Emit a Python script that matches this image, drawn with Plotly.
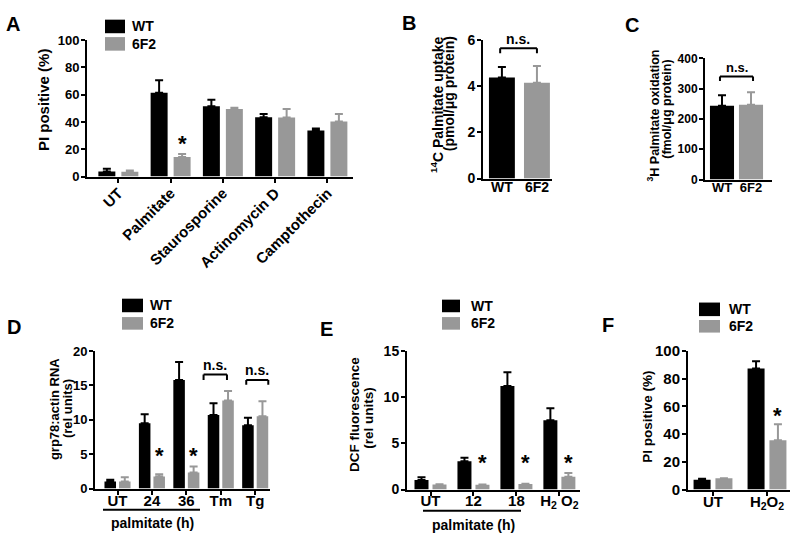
import plotly.graph_objects as go

W, H = 800, 545
FONT = "Liberation Sans, Arial, sans-serif"
BLACK = "#000000"
GRAY = "#989898"

# ---------------- data ----------------
# Panel A: PI positive (%)
a_cats = ["UT", "Palmitate", "Staurosporine", "Actinomycin D", "Camptothecin"]
a_wt = [3.8, 61.3, 51.5, 43.5, 33.8]
a_wt_sem = [1.9, 9.2, 4.8, 2.3, 1.4]
a_ko = [3.6, 14.3, 49.5, 43.3, 40.4]
a_ko_sem = [0.9, 2.3, 0.9, 6.1, 5.4]

# Panel B: 14C palmitate uptake
b_cats = ["WT", "6F2"]
b_vals = [4.38, 4.15]
b_sem = [0.45, 0.72]

# Panel C: 3H palmitate oxidation
c_cats = ["WT", "6F2"]
c_vals = [244, 247]
c_sem = [34, 41]

# Panel D: grp78:actin RNA
d_cats = ["UT", "24", "36", "Tm", "Tg"]
d_wt = [1.03, 9.5, 15.8, 10.7, 9.2]
d_wt_sem = [0.24, 1.3, 2.6, 1.7, 1.1]
d_ko = [1.03, 1.74, 2.35, 12.8, 10.5]
d_ko_sem = [0.6, 0.33, 0.85, 1.4, 2.2]

# Panel E: DCF fluorescence
e_cats = ["UT", "12", "18", "H2O2"]
e_ticks = ["UT", "12", "18", "H<sub>2</sub> O<sub>2</sub>"]
e_wt = [1.02, 3.05, 11.2, 7.5]
e_wt_sem = [0.32, 0.38, 1.5, 1.3]
e_ko = [0.55, 0.53, 0.6, 1.38]
e_ko_sem = [0.03, 0.02, 0.03, 0.4]

# Panel F: PI positive (%)
f_cats = ["UT", "H2O2"]
f_ticks = ["UT", "H<sub>2</sub>O<sub>2</sub>"]
f_wt = [7.0, 87.4]
f_wt_sem = [0.8, 5.2]
f_ko = [8.2, 35.6]
f_ko_sem = [0.0, 11.6]

# ---------------- helpers ----------------
def px(x):
    return x / W

def py(y):
    return 1 - y / H

fig = go.Figure()

def err(sem, color):
    return dict(type="data", symmetric=False, array=sem, arrayminus=[0] * len(sem),
                color=color, thickness=2, width=4)

def axis_style(n, xdom, ydom, xrange, yrange, dtick, tickfont_x=13, tickfont_y=12,
               tickangle=0, ticktext=None, cats=None, xstandoff=0, xticks="outside"):
    xs = "xaxis" if n == 1 else f"xaxis{n}"
    ys = "yaxis" if n == 1 else f"yaxis{n}"
    common = dict(showline=True, linecolor=BLACK, linewidth=2, ticks="outside",
                  ticklen=4, tickwidth=2, tickcolor=BLACK, showgrid=False,
                  zeroline=False, fixedrange=True)
    xa = dict(common, domain=[px(xdom[0]), px(xdom[1])], range=xrange, type="category",
              anchor=f"y{'' if n == 1 else n}", tickangle=tickangle,
              ticklabelstandoff=xstandoff, ticks=xticks,
              tickfont=dict(family=FONT, size=tickfont_x, color=BLACK, weight="bold"))
    if ticktext is not None:
        xa.update(tickmode="array", tickvals=cats, ticktext=ticktext)
    ya = dict(common, domain=[py(ydom[1]), py(ydom[0])], range=yrange, dtick=dtick,
              anchor=f"x{'' if n == 1 else n}", ticklabelstandoff=-1,
              tickfont=dict(family=FONT, size=tickfont_y, color=BLACK, weight="bold"))
    fig.update_layout(**{xs: xa, ys: ya})

def paired(n, cats, wt, wt_sem, ko, ko_sem, w, gap):
    xa = "x" if n == 1 else f"x{n}"
    ya = "y" if n == 1 else f"y{n}"
    fig.add_trace(go.Bar(x=cats, y=wt, xaxis=xa, yaxis=ya, width=w, offset=-w - gap / 2,
                         marker=dict(color=BLACK, line=dict(width=0)),
                         error_y=err(wt_sem, BLACK), showlegend=False, name="WT"))
    fig.add_trace(go.Bar(x=cats, y=ko, xaxis=xa, yaxis=ya, width=w, offset=gap / 2,
                         marker=dict(color=GRAY, line=dict(width=0)),
                         error_y=err(ko_sem, GRAY), showlegend=False, name="6F2"))
    return w / 2 + gap / 2  # center shift of each bar

def single(n, cats, vals, sem, w):
    xa = f"x{n}"
    ya = f"y{n}"
    for i, col in enumerate([BLACK, GRAY]):
        fig.add_trace(go.Bar(x=[cats[i]], y=[vals[i]], xaxis=xa, yaxis=ya, width=w,
                             marker=dict(color=col, line=dict(width=0)),
                             error_y=err([sem[i]], col), showlegend=False, name=cats[i]))

annotations = []
shapes = []

def text(x, y, s, size=13, xanchor="center", yanchor="middle", angle=0, xref="paper",
         yref="paper", yshift=0):
    annotations.append(dict(x=x, y=y, xref=xref, yref=yref, text=s, showarrow=False,
                            xanchor=xanchor, yanchor=yanchor, textangle=angle, yshift=yshift,
                            font=dict(family=FONT, size=size, color=BLACK, weight="bold")))

def ptext(x, y, s, size=13, **kw):
    text(px(x), py(y), s, size=size, **kw)

def star(xref, yref, x, y, size=22):
    # the asterisk glyph sits above the centre of its text box; shift it down
    text(x, y, "*", size=size, xref=xref, yref=yref, yshift=-5)

def legend(x0, x1, y0, y1, y2, y3, tx, size=14):
    shapes.append(dict(type="rect", xref="paper", yref="paper", x0=px(x0), x1=px(x1),
                       y0=py(y1), y1=py(y0), fillcolor=BLACK, line=dict(width=0)))
    shapes.append(dict(type="rect", xref="paper", yref="paper", x0=px(x0), x1=px(x1),
                       y0=py(y3), y1=py(y2), fillcolor=GRAY, line=dict(width=0)))
    ptext(tx, (y0 + y1) / 2, "WT", size=size, xanchor="left")
    ptext(tx, (y2 + y3) / 2, "6F2", size=size, xanchor="left")

def bracket(xref, yref, x0, x1, ytop, ybot):
    for (a, b, c, d) in [(x0, ytop, x1, ytop), (x0, ytop, x0, ybot), (x1, ytop, x1, ybot)]:
        shapes.append(dict(type="line", xref=xref, yref=yref, x0=a, y0=b, x1=c, y1=d,
                           line=dict(color=BLACK, width=2)))

def hline(x0, x1, y):
    shapes.append(dict(type="line", xref="paper", yref="paper", x0=px(x0), x1=px(x1),
                       y0=py(y), y1=py(y), line=dict(color=BLACK, width=2)))

# ---------------- Panel A ----------------
sA = paired(1, a_cats, a_wt, a_wt_sem, a_ko, a_ko_sem, 0.325, 0.115)
axis_style(1, (87, 353), (32, 173), [-0.60, 4.49], [0, 100], 20, tickfont_x=15,
           tickfont_y=13, tickangle=-45, xstandoff=-4)
star("x", "y", 1 + sA, 27.7)
legend(105, 125, 11, 25, 29, 43, 130)
ptext(43, 94, "PI positive (%)", size=15, angle=-90)
ptext(13, 15, "A", size=20)

# ---------------- Panel B ----------------
single(2, b_cats, b_vals, b_sem, 0.74)
axis_style(2, (483, 552), (32, 175), [-0.54, 1.43], [0, 6], 2, tickfont_x=14, tickfont_y=14,
           xstandoff=-5, xticks="")
bracket("x2", "y2", -0.05, 1.0, 5.64, 5.43)
ptext(518, 31, "n.s.", size=14)
ptext(437, 99, "<sup>14</sup>C Palmitate uptake", size=14, angle=-90)
ptext(449, 88, "(pmol/\u03bcg protein)", size=14, angle=-90)
ptext(409, 14, "B", size=20)

# ---------------- Panel C ----------------
single(3, c_cats, c_vals, c_sem, 0.83)
axis_style(3, (705, 772), (51, 176), [-0.586, 1.724], [0, 400], 100, tickfont_x=13,
           tickfont_y=12, xstandoff=-5, xticks="")
bracket("x3", "y3", -0.07, 1.07, 340, 325)
text(0.5, 370, "n.s.", size=13, xref="x3", yref="y3")
ptext(653, 110, "<sup>3</sup>H Palmitate oxidation", size=12.5, angle=-90)
ptext(667, 104, "(fmol/\u03bcg protein)", size=12.5, angle=-90)
ptext(632, 16, "C", size=20)

# ---------------- Panel D ----------------
sD = paired(4, d_cats, d_wt, d_wt_sem, d_ko, d_ko_sem, 0.335, 0.087)
axis_style(4, (95, 270), (353, 495), [-0.654, 4.43], [0, 20], 5, tickfont_x=15,
           tickfont_y=13, xstandoff=-7)
star("x4", "y4", 1 + sD, 5.5)
star("x4", "y4", 2 + sD, 5.5)
bracket("x4", "y4", 2.5, 3.18, 16.6, 15.8)
text(2.84, 18.0, "n.s.", size=14, xref="x4", yref="y4")
bracket("x4", "y4", 3.74, 4.38, 15.8, 15.1)
text(4.05, 17.2, "n.s.", size=14, xref="x4", yref="y4")
hline(103, 200, 517)
ptext(152, 531, "palmitate (h)", size=14)
legend(122, 143, 299, 313, 318, 331, 148)
ptext(54, 413, "grp78:actin RNA", size=13, angle=-90)
ptext(67, 413, "(rel units)", size=13, angle=-90)
ptext(14, 328, "D", size=20)

# ---------------- Panel E ----------------
sE = paired(5, e_cats, e_wt, e_wt_sem, e_ko, e_ko_sem, 0.326, 0.093)
axis_style(5, (407, 580), (353, 496), [-0.547, 3.48], [0, 15], 5, tickfont_x=15,
           tickfont_y=14, ticktext=e_ticks, cats=e_cats, xstandoff=-8)
for i in (1, 2, 3):
    star("x5", "y5", i + sE, 3.46)
hline(423, 521, 518)
ptext(473, 533, "palmitate (h)", size=14)
legend(442, 460, 300, 313, 318, 331, 469)
ptext(355, 419, "DCF fluorescence", size=13.5, angle=-90)
ptext(369, 422, "(rel units)", size=13.5, angle=-90)
ptext(326, 330, "E", size=20)

# ---------------- Panel F ----------------
sF = paired(6, f_cats, f_wt, f_wt_sem, f_ko, f_ko_sem, 0.315, 0.09)
axis_style(6, (688, 790), (353, 496), [-0.463, 1.426], [0, 100], 20, tickfont_x=15,
           tickfont_y=15, ticktext=f_ticks, cats=f_cats, xstandoff=-7)
star("x6", "y6", 1 + sF, 57)
legend(699, 720, 303, 317, 321, 334, 727)
ptext(648, 421, "PI positive (%)", size=13.5, angle=-90)
ptext(608, 326, "F", size=20)

fig.update_layout(width=W, height=H, margin=dict(l=0, r=0, t=0, b=0),
                  paper_bgcolor="white", plot_bgcolor="white", barmode="overlay",
                  showlegend=False, annotations=annotations, shapes=shapes,
                  font=dict(family=FONT, color=BLACK))

# remove the browser's default page margin so the 800x545 figure fills the window
fig.write_html("out.html", config={"displayModeBar": False},
               post_script="document.body.style.margin='0px';")
